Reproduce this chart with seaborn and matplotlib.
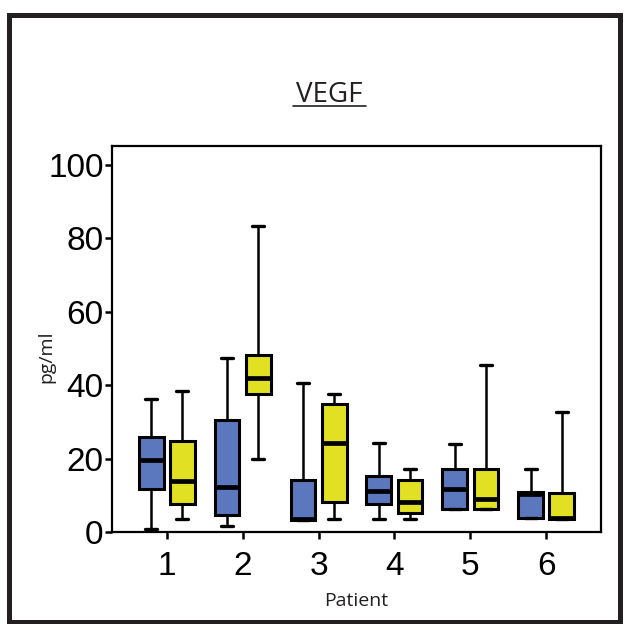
import pandas as pd
import matplotlib
matplotlib.use('Agg')
import matplotlib.pyplot as plt
import seaborn as sns
from matplotlib.patches import Rectangle
from matplotlib.lines import Line2D

# Summary values (pg/ml)
patients = ['1', '2', '3', '4', '5', '6']
groups = ['blue', 'yellow']

blue_low = [0.9, 1.7, 3.3, 3.5, 6.3, 3.7]
blue_q1 = [11.8, 4.6, 3.3, 7.5, 6.3, 3.7]
blue_med = [19.6, 12.2, 3.5, 11.3, 11.7, 10.3]
blue_q3 = [25.9, 30.5, 14.2, 15.2, 17.1, 10.8]
blue_high = [36.2, 47.5, 40.6, 24.2, 24.1, 17.1]

yellow_low = [3.5, 19.9, 3.5, 3.5, 6.3, 3.5]
yellow_q1 = [7.6, 37.5, 8.1, 5.1, 6.3, 3.5]
yellow_med = [14.0, 42.1, 24.3, 8.3, 9.0, 3.9]
yellow_q3 = [24.7, 48.2, 35.0, 14.3, 17.1, 10.5]
yellow_high = [38.5, 83.4, 37.7, 17.1, 45.6, 32.8]

# five values per box -> quartiles and min/max come out exactly
rows = []
stats = {
    'blue': [blue_low, blue_q1, blue_med, blue_q3, blue_high],
    'yellow': [yellow_low, yellow_q1, yellow_med, yellow_q3, yellow_high],
}
for g in groups:
    for i, p in enumerate(patients):
        for s in stats[g]:
            rows.append({'Patient': p, 'group': g, 'value': s[i]})
df = pd.DataFrame(rows)

sns.set_style('ticks')
plt.rcParams['font.family'] = ['Liberation Sans', 'DejaVu Sans']

fig = plt.figure(figsize=(6.24, 6.24), dpi=100)
ax = fig.add_axes([112 / 624, 1 - 532 / 624, 489 / 624, 386 / 624])

sns.boxplot(data=df, x='Patient', y='value', hue='group', order=patients,
            palette=['#5b78be', '#e2e022'], saturation=1, whis=(0, 100),
            width=0.82, gap=0.2, linecolor='black', linewidth=2.2,
            showfliers=False, legend=False,
            medianprops=dict(linewidth=3.4, solid_capstyle='butt'),
            whiskerprops=dict(linewidth=1.8),
            capprops=dict(linewidth=2.4),
            ax=ax)

ax.set_xlim(-0.72, 5.72)
ax.set_ylim(0, 105.2)
ax.set_yticks([0, 20, 40, 60, 80, 100])
ax.tick_params(axis='both', direction='out', length=5, width=1.8,
               labelsize=24, colors='black')
ax.tick_params(axis='y', pad=1)
ax.tick_params(axis='x', pad=9)
for sp in ax.spines.values():
    sp.set_linewidth(1.6)
    sp.set_color('black')

ax.set_xlabel('Patient', fontsize=14, family='Open Sans', color='#231f20')
ax.set_ylabel('pg/ml', fontsize=14, family='Open Sans', color='#231f20')
ax.xaxis.set_label_coords(0.5, -0.155)
ax.yaxis.set_label_coords(-0.115, 0.453)

# title with underline
fig.text(329 / 624, 1 - 101.5 / 624, 'VEGF', ha='center', va='baseline',
         fontsize=20, family='Open Sans', color='#231f20')
fig.add_artist(Line2D([293 / 624, 366 / 624], [1 - 105.5 / 624, 1 - 105.5 / 624],
                      transform=fig.transFigure, color='#231f20', lw=1.2))

# outer frame
fig.add_artist(Rectangle((8.5 / 624, 2 / 624), 611.5 / 624, 607 / 624,
                         transform=fig.transFigure, fill=False,
                         edgecolor='#231f20', lw=3.6))

fig.savefig('out.png', dpi=100)
